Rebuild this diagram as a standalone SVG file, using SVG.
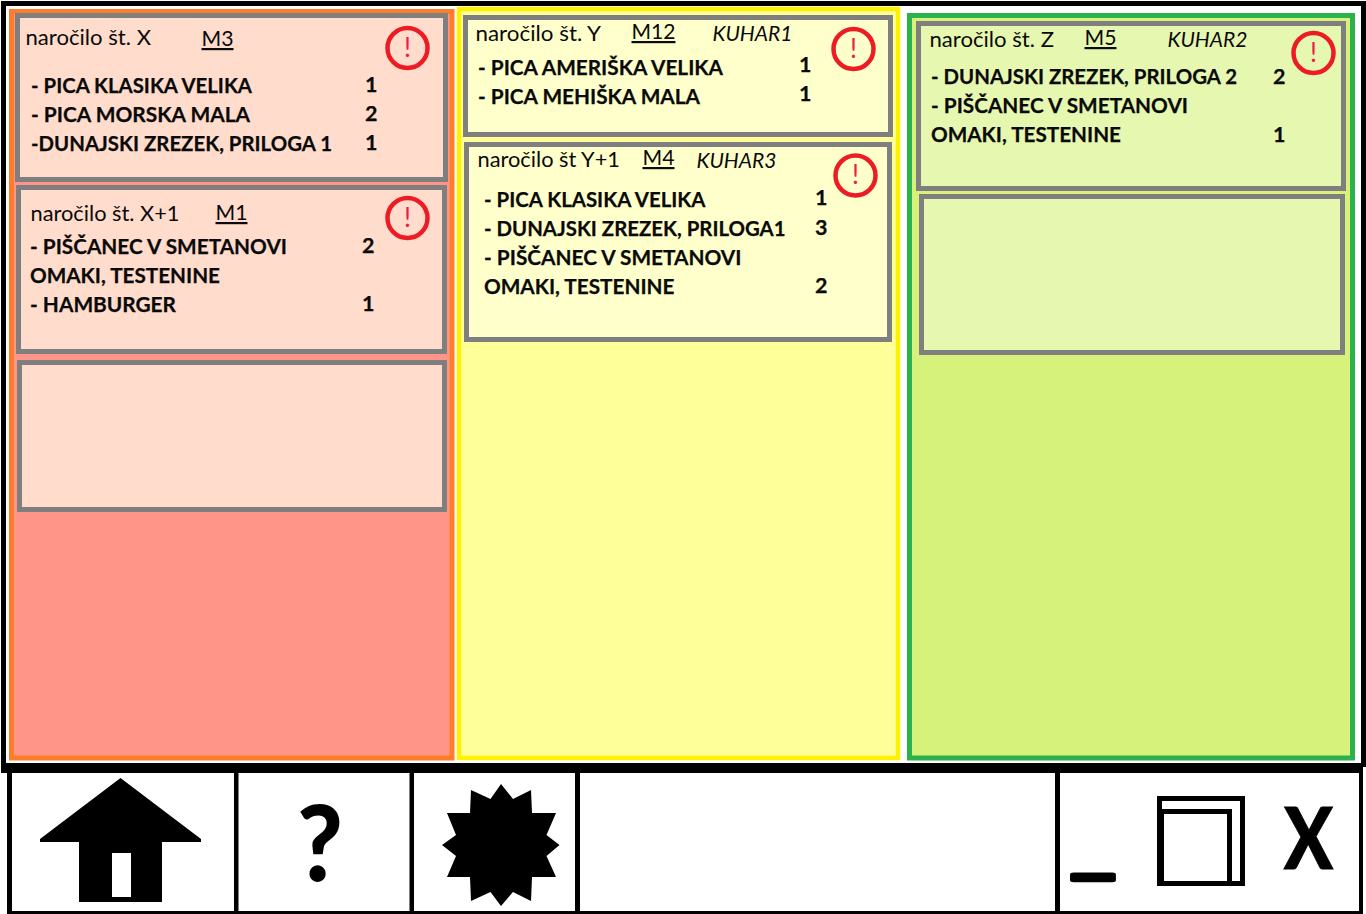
<svg xmlns="http://www.w3.org/2000/svg" width="1366" height="914" viewBox="0 0 1366 914">
<style>
text{font-family:Lato,"Open Sans","Liberation Sans",sans-serif;fill:#0a0a0a}
.t{font-size:21.500px}
.m{font-size:22px;text-decoration:underline}
.k{font-size:21.500px;font-style:italic}
.b{font-size:21.500px;font-weight:700;stroke:#0a0a0a;stroke-width:.25}
.x{font-size:26px;fill:#ed1c4a;text-anchor:middle}
.card{stroke:#7f7f7f;stroke-width:5}
.r{fill:#ffdccc}.y{fill:#ffffcc}.g{fill:#e6f7b0}
.al{fill:none;stroke:#ed1c24;stroke-width:4.500}
.ic{font-weight:900;fill:#000}
</style>
<rect width="1366" height="914" fill="#fff"/>
<g id="frame">
<rect x="1" y="1" width="1365" height="5" fill="#000"/>
<rect x="1" y="1" width="5" height="768" fill="#000"/>
<rect x="1361" y="1" width="5" height="766" fill="#000"/>
</g>
<g id="column-red">
<rect x="11.500" y="11.500" width="440.500" height="746.500" fill="#ff9488" stroke="#ff7c2a" stroke-width="5"/>
</g>
<g id="column-yellow">
<rect x="459" y="9" width="439" height="749" fill="#ffff99" stroke="#fff200" stroke-width="4.500"/>
</g>
<g id="column-green">
<rect x="909.500" y="15.500" width="443" height="742.500" fill="#d6f27a" stroke="#2bb24c" stroke-width="5"/>
</g>
<g id="order-x">
<rect class="card r" x="17.500" y="15.500" width="428" height="164"/>
<text class="t" x="25.500" y="45" textLength="125.500" lengthAdjust="spacingAndGlyphs">naročilo št. X</text>
<text class="m" x="201.500" y="46" textLength="32" lengthAdjust="spacingAndGlyphs">M3</text>
<circle class="al" cx="407.500" cy="48" r="20"/><text class="x" x="407.500" y="57">!</text>
<text class="b" x="31" y="93" textLength="221" lengthAdjust="spacingAndGlyphs">- PICA KLASIKA VELIKA</text>
<text class="b" x="31" y="122" textLength="219" lengthAdjust="spacingAndGlyphs">- PICA MORSKA MALA</text>
<text class="b" x="31" y="151" textLength="301" lengthAdjust="spacingAndGlyphs">-DUNAJSKI ZREZEK, PRILOGA 1</text>
<text class="b" x="365" y="92">1</text><text class="b" x="365" y="121">2</text><text class="b" x="365" y="150">1</text>
</g>
<g id="order-x1">
<rect class="card r" x="18.500" y="187.500" width="426" height="164"/>
<text class="t" x="30.500" y="221" textLength="149" lengthAdjust="spacingAndGlyphs">naročilo št. X+1</text>
<text class="m" x="215.500" y="220" textLength="32" lengthAdjust="spacingAndGlyphs">M1</text>
<circle class="al" cx="407.500" cy="218" r="20"/><text class="x" x="407.500" y="227">!</text>
<text class="b" x="30" y="254" textLength="257" lengthAdjust="spacingAndGlyphs">- PIŠČANEC V SMETANOVI</text>
<text class="b" x="30" y="283" textLength="190" lengthAdjust="spacingAndGlyphs">OMAKI, TESTENINE</text>
<text class="b" x="30" y="312" textLength="146" lengthAdjust="spacingAndGlyphs">- HAMBURGER</text>
<text class="b" x="362" y="253">2</text><text class="b" x="362" y="311">1</text>
</g>
<g id="slot-red"><rect class="card r" x="19.500" y="362.500" width="425" height="147"/></g>
<g id="order-y">
<rect class="card y" x="465.500" y="17.500" width="425" height="117"/>
<text class="t" x="475.500" y="41" textLength="125.500" lengthAdjust="spacingAndGlyphs">naročilo št. Y</text>
<text class="m" x="631.500" y="39" textLength="44" lengthAdjust="spacingAndGlyphs">M12</text>
<text class="k" x="712.500" y="41" textLength="80" lengthAdjust="spacingAndGlyphs">KUHAR1</text>
<circle class="al" cx="853.500" cy="49" r="20"/><text class="x" x="853.500" y="58">!</text>
<text class="b" x="478" y="75" textLength="245" lengthAdjust="spacingAndGlyphs">- PICA AMERIŠKA VELIKA</text>
<text class="b" x="478" y="104" textLength="222" lengthAdjust="spacingAndGlyphs">- PICA MEHIŠKA MALA</text>
<text class="b" x="799" y="72">1</text><text class="b" x="799" y="101">1</text>
</g>
<g id="order-y1">
<rect class="card y" x="466.500" y="144.500" width="423" height="195"/>
<text class="t" x="477.500" y="167" textLength="142.500" lengthAdjust="spacingAndGlyphs">naročilo št Y+1</text>
<text class="m" x="642.500" y="165" textLength="32" lengthAdjust="spacingAndGlyphs">M4</text>
<text class="k" x="696.500" y="168" textLength="80" lengthAdjust="spacingAndGlyphs">KUHAR3</text>
<circle class="al" cx="855.500" cy="175.500" r="20"/><text class="x" x="855.500" y="184">!</text>
<text class="b" x="484" y="207" textLength="221.500" lengthAdjust="spacingAndGlyphs">- PICA KLASIKA VELIKA</text>
<text class="b" x="484" y="236" textLength="301.500" lengthAdjust="spacingAndGlyphs">- DUNAJSKI ZREZEK, PRILOGA1</text>
<text class="b" x="484" y="265" textLength="257.500" lengthAdjust="spacingAndGlyphs">- PIŠČANEC V SMETANOVI</text>
<text class="b" x="484" y="294" textLength="190.500" lengthAdjust="spacingAndGlyphs">OMAKI, TESTENINE</text>
<text class="b" x="815" y="205">1</text><text class="b" x="815" y="235">3</text><text class="b" x="815" y="293">2</text>
</g>
<g id="order-z">
<rect class="card g" x="918.500" y="23.500" width="425" height="165"/>
<text class="t" x="929.500" y="47" textLength="124.500" lengthAdjust="spacingAndGlyphs">naročilo št. Z</text>
<text class="m" x="1084.500" y="45" textLength="32" lengthAdjust="spacingAndGlyphs">M5</text>
<text class="k" x="1167.500" y="47" textLength="80" lengthAdjust="spacingAndGlyphs">KUHAR2</text>
<circle class="al" cx="1313.500" cy="53" r="20"/><text class="x" x="1313.500" y="62">!</text>
<text class="b" x="931" y="84" textLength="306" lengthAdjust="spacingAndGlyphs">- DUNAJSKI ZREZEK, PRILOGA 2</text>
<text class="b" x="931" y="113" textLength="257" lengthAdjust="spacingAndGlyphs">- PIŠČANEC V SMETANOVI</text>
<text class="b" x="931" y="142" textLength="190" lengthAdjust="spacingAndGlyphs">OMAKI, TESTENINE</text>
<text class="b" x="1273" y="84">2</text><text class="b" x="1273" y="142">1</text>
</g>
<g id="slot-green"><rect class="card g" x="921.500" y="196.500" width="421" height="156"/></g>
<g id="toolbar">
<rect x="1" y="763" width="1362" height="10" fill="#000"/>
<rect x="7" y="763" width="5" height="151" fill="#000"/>
<rect x="7" y="911" width="1356" height="3" fill="#000"/>
<rect x="1359" y="763" width="4" height="151" fill="#000"/>
<rect x="234" y="763" width="4.500" height="151" fill="#000"/>
<rect x="409.500" y="763" width="4.500" height="151" fill="#000"/>
<rect x="575" y="763" width="5" height="151" fill="#000"/>
<rect x="1055" y="763" width="5" height="151" fill="#000"/>
</g>
<g id="icon-home">
<path d="M120.500 778L201 839V842H162V902H79V842H40V839Z" fill="#000"/>
<rect x="112" y="853" width="19" height="44" fill="#fff"/>
</g>
<g id="icon-help"><text class="ic" x="297" y="881" font-size="104" textLength="46" lengthAdjust="spacingAndGlyphs">?</text></g>
<g id="icon-star"><path d="M501 784L513 799 531 790 532 813H556L546.500 835 559.500 845 546.500 856 556 877H532L531 901 513 892 501 906 490.500 892 471 901 470 877H447L456 856 442 845 456 835 447 813H470L471 790 490.500 799Z" fill="#000"/></g>
<g id="icon-minimize"><text class="ic" x="1070" y="871" font-size="60" textLength="46" lengthAdjust="spacingAndGlyphs" style="stroke:#000;stroke-width:4.500px;stroke-linejoin:round">_</text></g>
<g id="icon-restore">
<rect x="1159.500" y="798.500" width="83" height="85" fill="none" stroke="#000" stroke-width="5"/>
<rect x="1160.500" y="811.500" width="69" height="72" fill="none" stroke="#000" stroke-width="5"/>
<rect x="1157" y="809" width="7" height="77" fill="#000"/>
</g>
<g id="icon-close"><text class="ic" x="1284" y="869" font-size="85" textLength="49" lengthAdjust="spacingAndGlyphs" style="stroke:#000;stroke-width:1px">X</text></g>
</svg>
